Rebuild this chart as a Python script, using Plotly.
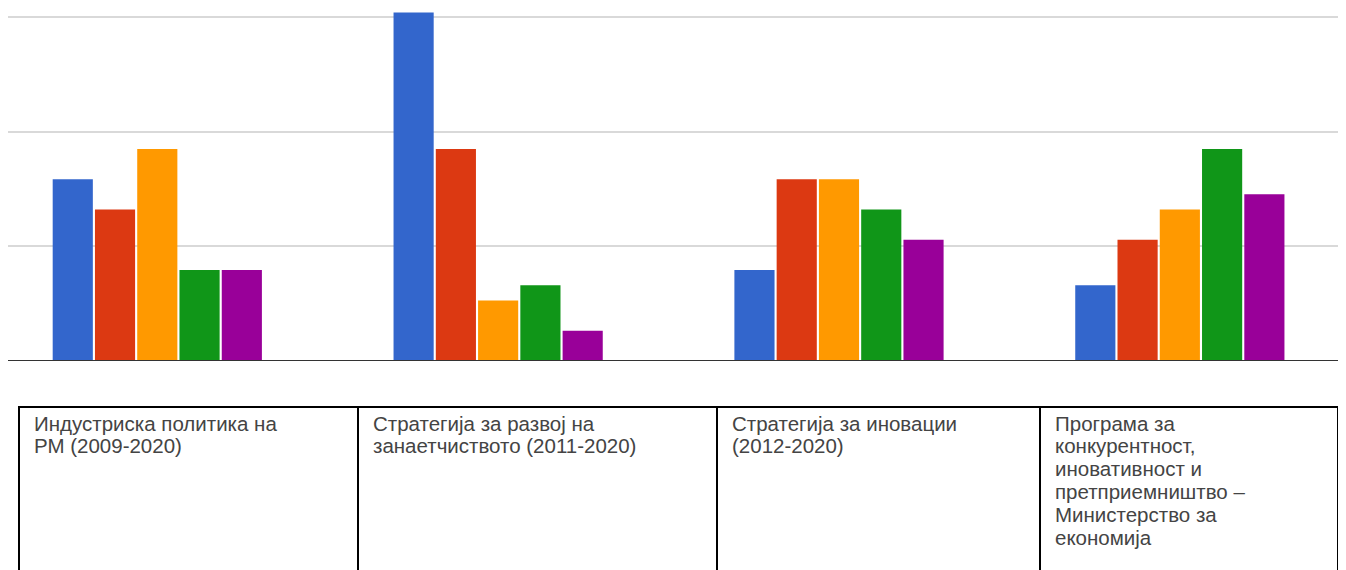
import plotly.graph_objects as go

# ---- data ----
categories = [
    "Индустриска политика на\nРМ (2009-2020)",
    "Стратегија за развој на\nзанаетчиството (2011-2020)",
    "Стратегија за иновации\n(2012-2020)",
    "Програма за\nконкурентност,\nиновативност и\nпретприемништво –\nМинистерство за\nекономија",
]
series_names = ["Серија 1", "Серија 2", "Серија 3", "Серија 4", "Серија 5"]
series_values = [
    [12, 23, 6, 5],
    [10, 14, 12, 8],
    [14, 4, 12, 10],
    [6, 5, 10, 14],
    [6, 2, 8, 11],
]
colors = ["#3366cc", "#dc3912", "#ff9900", "#109618", "#990099"]

# ---- layout geometry (pixels) ----
OFF = 8  # page body margin
W, H = 1346 - OFF, 570 - OFF
L, R, T = 0, 8, 0
PLOT_BOTTOM = 361 - OFF
B = H - PLOT_BOTTOM
PW, PH = W - L - R, H - T - B
UNIT_PX = 15.15
GRID_STEP = 7.57
Y_MAX = PH / UNIT_PX
X_RANGE = [-0.438, 3.464]


def px2paper_x(px):  # px in screenshot coordinates
    return (px - OFF - L) / PW


def px2paper_y(py):  # py in screenshot coordinates
    return (H - B - (py - OFF)) / PH


fig = go.Figure()
xs = list(range(len(categories)))
for name, vals, col in zip(series_names, series_values, colors):
    fig.add_trace(go.Bar(
        x=xs, y=vals, name=name,
        marker=dict(color=col, line=dict(width=0)),
        hoverinfo="y",
    ))

shapes = []
# baseline
shapes.append(dict(type="line", xref="paper", yref="y", x0=0, x1=1, y0=0, y1=0,
                   line=dict(color="#333333", width=2), layer="above"))

# table below chart
col_edges = [19, 358, 717, 1040, 1338]
table_top = 407
table_bottom = 600
bw = 2
shapes.append(dict(type="line", xref="paper", yref="paper",
                   x0=px2paper_x(col_edges[0] - 1), x1=px2paper_x(col_edges[-1] + 1),
                   y0=px2paper_y(table_top), y1=px2paper_y(table_top),
                   line=dict(color="#000000", width=bw)))
for e in col_edges:
    shapes.append(dict(type="line", xref="paper", yref="paper",
                       x0=px2paper_x(e), x1=px2paper_x(e),
                       y0=px2paper_y(table_top), y1=px2paper_y(table_bottom),
                       line=dict(color="#000000", width=bw)))

annotations = []
line_h = 22.8
first_center = 423
for i, cat in enumerate(categories):
    for j, ln in enumerate(cat.split("\n")):
        annotations.append(dict(
            text=ln, xref="paper", yref="paper",
            x=px2paper_x(col_edges[i] + 13), y=px2paper_y(first_center + j * line_h),
            xanchor="left", yanchor="middle", showarrow=False,
            font=dict(family="Liberation Sans, Arial", size=20.5, color="#444444"),
        ))

fig.update_layout(
    width=W, height=H,
    margin=dict(l=L, r=R, t=T, b=B, pad=0),
    paper_bgcolor="white", plot_bgcolor="white",
    barmode="group", bargap=0.38, bargroupgap=0.05,
    showlegend=False,
    xaxis=dict(range=X_RANGE, showticklabels=False, showgrid=False, zeroline=False,
               ticks="", fixedrange=True),
    yaxis=dict(range=[0, Y_MAX], tickvals=[GRID_STEP * k for k in range(1, 4)],
               showticklabels=False, showgrid=True, gridcolor="#d9d9d9", gridwidth=2,
               zeroline=False, ticks="", fixedrange=True),
    shapes=shapes,
    annotations=annotations,
)

fig.write_html("out.html")
